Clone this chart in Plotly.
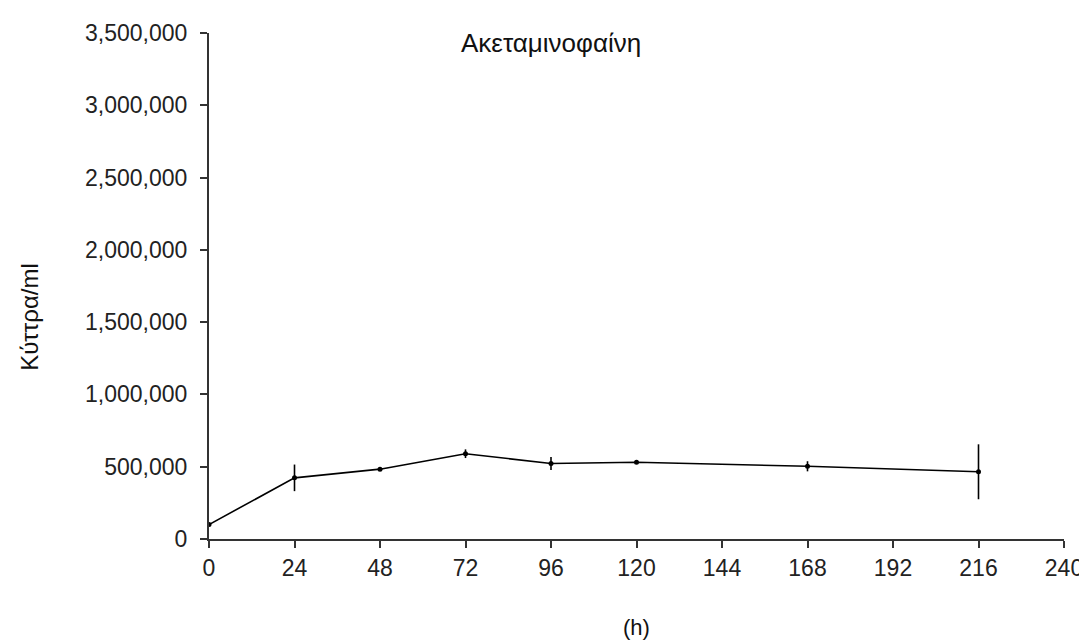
import plotly.graph_objects as go

hours = [0, 24, 48, 72, 96, 120, 168, 216]
cells = [100000, 423000, 483000, 590000, 522000, 531000, 503000, 465000]
errors = [8000, 92000, 12000, 30000, 45000, 10000, 35000, 190000]

x_ticks = [0, 24, 48, 72, 96, 120, 144, 168, 192, 216, 240]
y_ticks = [0, 500000, 1000000, 1500000, 2000000, 2500000, 3000000, 3500000]

title_text = "Ακεταμινοφαίνη"
y_title = "Κύττρα/ml"
x_title = "(h)"

FONT = "Liberation Sans, Arial, sans-serif"

fig = go.Figure()
fig.add_trace(go.Scatter(
    x=hours, y=cells,
    mode="lines+markers",
    line=dict(color="black", width=1.6),
    marker=dict(color="black", size=5),
    error_y=dict(type="data", array=errors, visible=True, color="black",
                 thickness=1.6, width=0),
    showlegend=False,
))

fig.update_layout(
    width=1087, height=640,
    paper_bgcolor="white", plot_bgcolor="white",
    margin=dict(l=201, r=24, t=23, b=109),
    font=dict(family=FONT, size=22, color="#222222"),
    annotations=[
        dict(text=title_text, xref="paper", yref="paper", x=0.40, y=0.98,
             xanchor="center", yanchor="middle", showarrow=False,
             font=dict(family=FONT, size=26, color="#111111")),
        dict(text=x_title, xref="paper", yref="paper", x=0.5, y=-0.175,
             xanchor="center", yanchor="middle", showarrow=False,
             font=dict(family=FONT, size=22, color="#111111")),
        dict(text=y_title, xref="paper", yref="paper", x=-0.21, y=0.44,
             xanchor="center", yanchor="middle", showarrow=False, textangle=-90,
             font=dict(family=FONT, size=24, color="#111111")),
    ],
)

fig.update_xaxes(
    range=[0, 240], tickvals=x_ticks, ticktext=[str(v) for v in x_ticks],
    showgrid=False, zeroline=False, showline=True, linecolor="#333333", linewidth=2,
    ticks="outside", ticklen=7, tickwidth=2, tickcolor="#333333",
    tickfont=dict(family=FONT, size=23, color="#222222"),
)
fig.update_yaxes(
    range=[0, 3500000], tickvals=y_ticks, ticktext=[f"{v:,}" for v in y_ticks],
    showgrid=False, zeroline=False, showline=True, linecolor="#333333", linewidth=2,
    ticks="outside", ticklen=7, tickwidth=2, tickcolor="#333333",
    tickfont=dict(family=FONT, size=23, color="#222222"),
    ticklabelstandoff=8,
)

fig.write_html("out.html")
